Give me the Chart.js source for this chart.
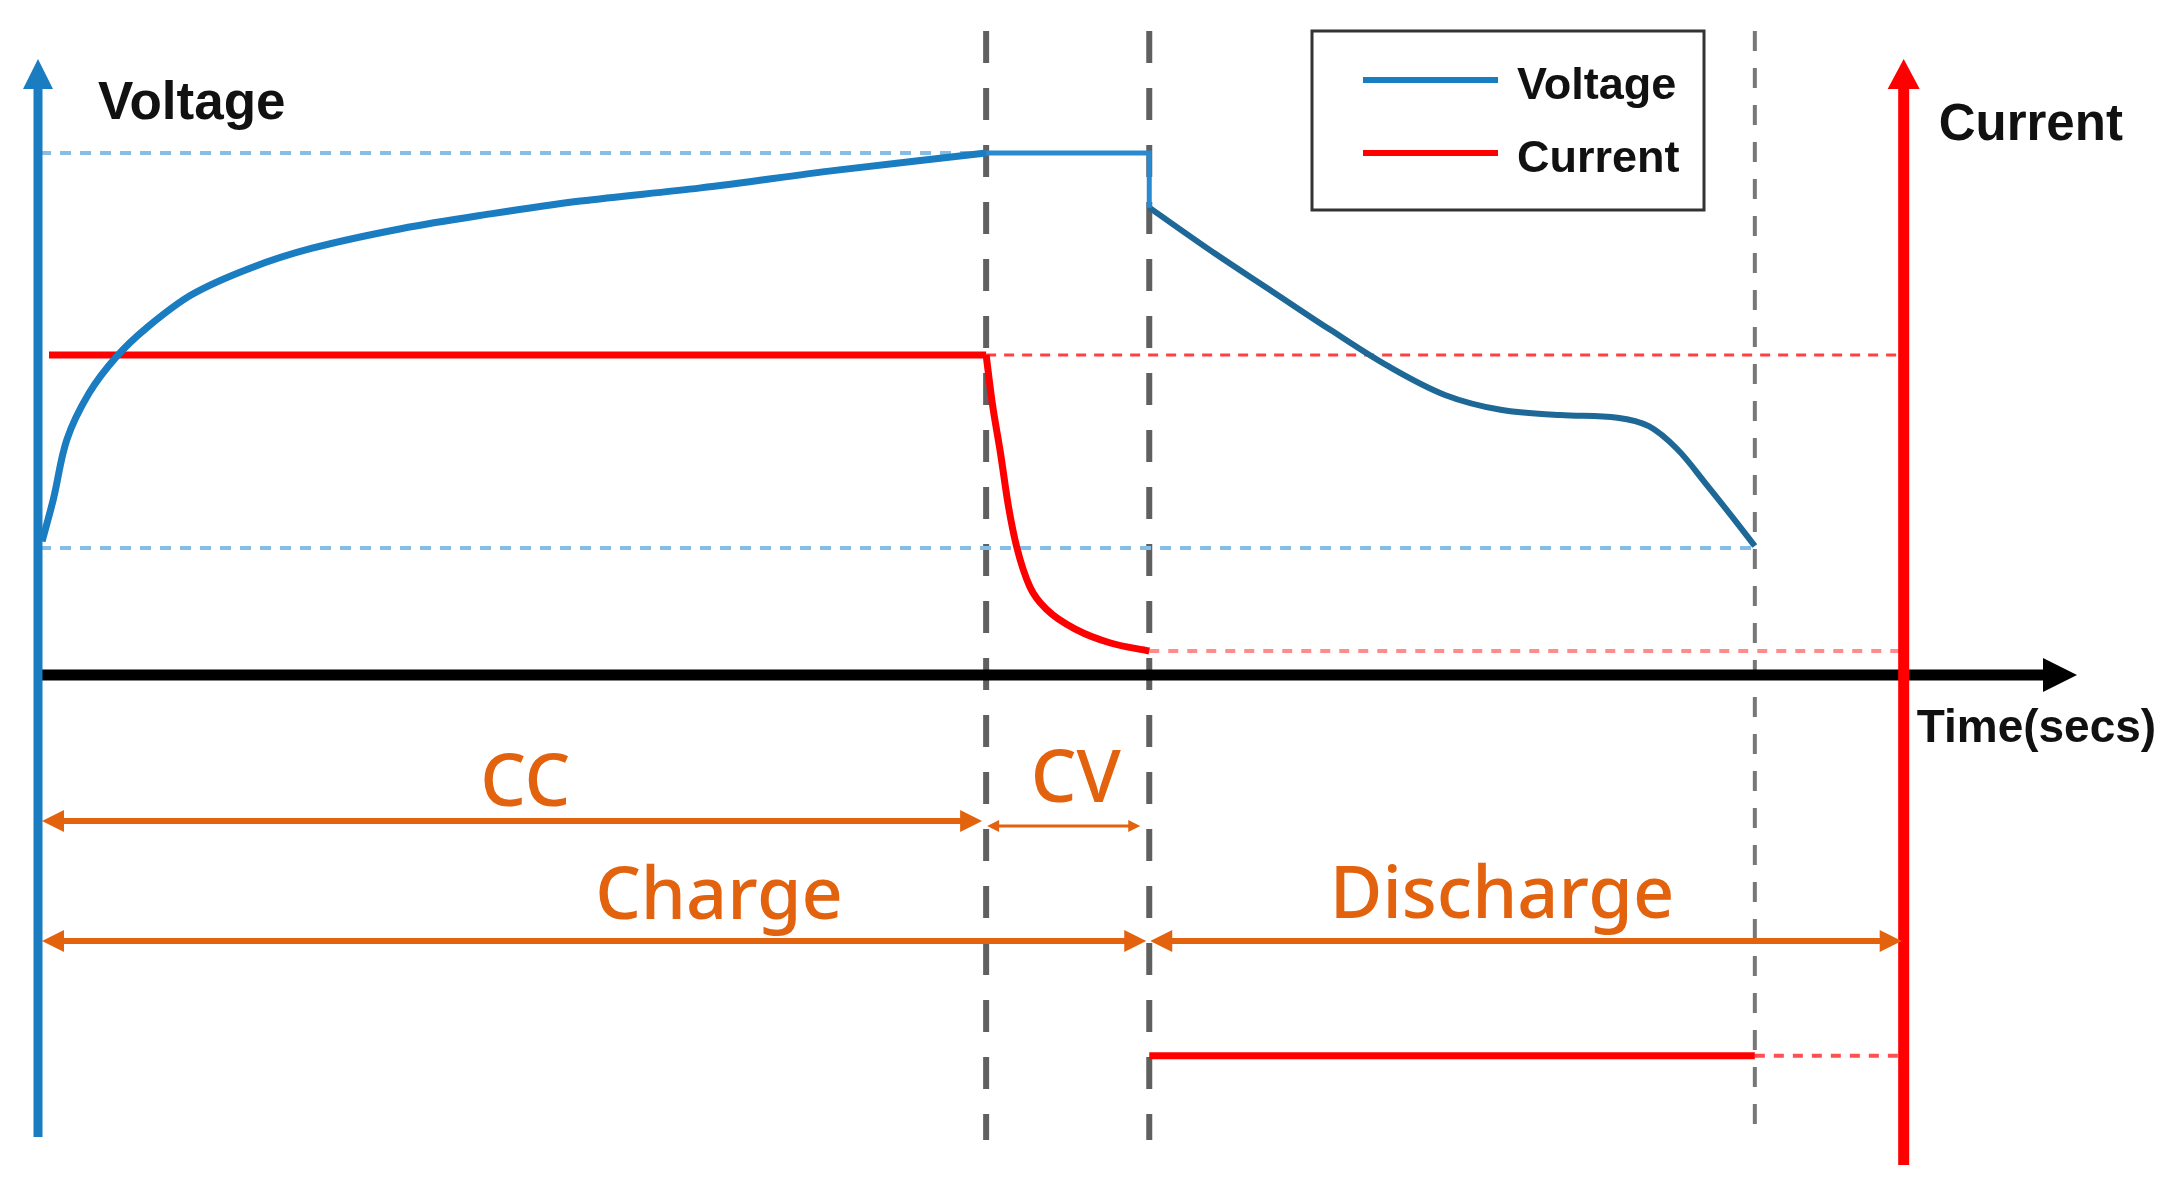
<!DOCTYPE html>
<html>
<head>
<meta charset="utf-8">
<script src="https://cdn.jsdelivr.net/npm/chart.js@4.4.0/dist/chart.umd.min.js"></script>
<style>
  html, body { margin: 0; padding: 0; background: #fff; overflow: hidden; }
  canvas { display: block; }
</style>
</head>
<body>
<canvas id="cccv-chart" width="2176" height="1186"></canvas>
<script>
// time is in arbitrary secs: 0 = start of charge, 100 = tip of the time arrow
const phaseTimes = [46.5, 54.5, 84.2];   // end of CC, end of CV, end of discharge
const currentAxisTime = 91.5;

// voltage (V) during CC charge
const chargeTime    = [0.2, 0.76, 1.42, 2.5, 3.83, 5.35, 7.55, 10.4, 13.4, 17.8, 22.2, 26.6, 32.5, 39.2, 46.5];
const chargeVoltage = [3.02, 3.15, 3.33, 3.47, 3.58, 3.67, 3.77, 3.85, 3.91, 3.97, 4.015, 4.054, 4.094, 4.148, 4.2];

// voltage held during CV, then the step down when discharge starts
const cvTime    = [46.5, 54.5, 54.5];
const cvVoltage = [4.2, 4.2, 4.034];

// voltage during discharge
const dischargeTime    = [54.5, 57.76, 60.57, 63.4, 66.2, 69.0, 71.8, 74.65, 77.46, 79.0, 80.4, 81.8, 83.1, 84.2];
const dischargeVoltage = [4.034, 3.893, 3.778, 3.662, 3.553, 3.465, 3.419, 3.404, 3.396, 3.37, 3.30, 3.195, 3.094, 3.006];

// current (A)
const ccTime    = [0.54, 46.5];
const ccCurrent = [1.0, 1.0];
const cvDecayTime    = [46.5, 46.8, 47.2, 47.6, 48.0, 48.65, 49.5, 50.95, 52.6, 54.5];
const cvDecayCurrent = [1.0, 0.85, 0.695, 0.525, 0.40, 0.275, 0.203, 0.141, 0.10, 0.075];
const dischargeCurrentTime = [54.5, 84.2];
const dischargeCurrent     = [-1.19, -1.19];

const vMax = 4.2, vMin = 3.0, iCutoff = 0.075;

const phaseLabels = ["CC", "CV", "Charge", "Discharge"];

// ---- frame: where the diagram sits on the 2176x1186 canvas ----
const W = 2176, H = 1186;
const T0_PX = 38, T100_PX = 2077;
const pxPerT = (T100_PX - T0_PX) / 100;
const V3_PX = 548, V42_PX = 153;
const pxPerV = (V3_PX - V42_PX) / (vMax - vMin);
const I0_PX = 675, I1_PX = 355;
const pxPerA = I0_PX - I1_PX;

const pts = (xs, ys) => xs.map((x, i) => ({ x: x, y: ys[i] }));
const flat = (xs, y) => xs.map(x => ({ x: x, y: y }));
const upright = (t, ys) => ys.map(y => ({ x: t, y: y }));

const BLUE = "#1a7cc1";
const BLUE_DARK = "#1d6896";
const BLUE_LIGHT = "#86bde6";
const RED = "#ff0000";
const ORANGE = "#e2620e";
const GRAY = "#606060";

function line(label, data, axis, color, width, extra) {
  return Object.assign({
    label: label, data: data, yAxisID: axis,
    borderColor: color, backgroundColor: color, borderWidth: width,
    pointRadius: 0, fill: false, tension: 0, order: 0
  }, extra || {});
}

const markerSpan = [(I0_PX - 31) / pxPerA, (I0_PX - 1140) / pxPerA];

const datasets = [
  line("Voltage", pts(chargeTime, chargeVoltage), "yV", BLUE, 7, { tension: 0.35 }),
  line("Voltage CV", pts(cvTime, cvVoltage), "yV", "#2a8ad0", 5),
  line("Voltage discharge", pts(dischargeTime, dischargeVoltage), "yV", BLUE_DARK, 6, { tension: 0.35 }),
  line("Current", pts(ccTime, ccCurrent), "yI", RED, 7),
  line("Current CV", pts(cvDecayTime, cvDecayCurrent), "yI", RED, 7, { cubicInterpolationMode: "monotone" }),
  line("Current discharge", pts(dischargeCurrentTime, dischargeCurrent), "yI", RED, 7),
  // guide lines
  line("vmax", flat([0.1, phaseTimes[0]], vMax), "yV", BLUE_LIGHT, 4, { borderDash: [11, 9], order: 5 }),
  line("vmin", flat([0.1, phaseTimes[2]], vMin), "yV", BLUE_LIGHT, 4, { borderDash: [11, 9], order: 5 }),
  line("ichg", flat([phaseTimes[0], currentAxisTime], ccCurrent[0]), "yI", "#ff4040", 3, { borderDash: [10, 8], order: 5 }),
  line("icut", flat([phaseTimes[1], currentAxisTime], iCutoff), "yI", "#ff8c8c", 4, { borderDash: [10, 9], order: 5 }),
  line("idis", flat([phaseTimes[2], currentAxisTime], dischargeCurrent[0]), "yI", "#ff5050", 4, { borderDash: [10, 9], order: 5 }),
  // phase boundaries
  line("m1", upright(phaseTimes[0], markerSpan), "yI", GRAY, 6, { borderDash: [32, 25], order: 10 }),
  line("m2", upright(phaseTimes[1], markerSpan), "yI", GRAY, 6, { borderDash: [32, 25], order: 10 }),
  line("m3", upright(phaseTimes[2], markerSpan), "yI", "#777777", 4, { borderDash: [20, 17], order: 10 })
];

function head(ctx, x, y, dx, dy, len, half) {
  // filled triangle with tip at (x,y) pointing along (dx,dy)
  const nx = -dy, ny = dx;
  ctx.beginPath();
  ctx.moveTo(x, y);
  ctx.lineTo(x - dx * len + nx * half, y - dy * len + ny * half);
  ctx.lineTo(x - dx * len - nx * half, y - dy * len - ny * half);
  ctx.closePath();
  ctx.fill();
}

function span(ctx, x1, x2, y, width, len, half) {
  ctx.lineWidth = width;
  ctx.beginPath();
  ctx.moveTo(x1 + len * 0.8, y);
  ctx.lineTo(x2 - len * 0.8, y);
  ctx.stroke();
  head(ctx, x1, y, -1, 0, len, half);
  head(ctx, x2, y, 1, 0, len, half);
}

const diagramPlugin = {
  id: "diagram",
  afterDatasetsDraw(chart) {
    const ctx = chart.ctx;
    const x = chart.scales.x, yI = chart.scales.yI;
    const ax0 = x.getPixelForValue(0);
    const axI = x.getPixelForValue(currentAxisTime);
    const axY = yI.getPixelForValue(0);
    const tipX = x.getPixelForValue(100);
    ctx.save();

    // time axis
    ctx.strokeStyle = "#000"; ctx.fillStyle = "#000";
    ctx.lineWidth = 11;
    ctx.beginPath(); ctx.moveTo(ax0, axY); ctx.lineTo(tipX - 30, axY); ctx.stroke();
    head(ctx, tipX, axY, 1, 0, 34, 17);

    // voltage axis
    ctx.strokeStyle = BLUE; ctx.fillStyle = BLUE;
    ctx.lineWidth = 9;
    ctx.beginPath(); ctx.moveTo(ax0, 1137); ctx.lineTo(ax0, 84); ctx.stroke();
    head(ctx, ax0, 59, 0, -1, 30, 15);

    // current axis
    ctx.strokeStyle = RED; ctx.fillStyle = RED;
    ctx.lineWidth = 11;
    ctx.beginPath(); ctx.moveTo(axI, 1165); ctx.lineTo(axI, 84); ctx.stroke();
    head(ctx, axI, 59, 0, -1, 30, 16);

    // axis titles
    ctx.fillStyle = "#111";
    ctx.textBaseline = "alphabetic";
    ctx.textAlign = "left";
    ctx.font = "bold 53px 'Liberation Sans', Arial, sans-serif";
    ctx.fillText("Voltage", ax0 + 60, 119);
    ctx.font = "bold 51px 'Liberation Sans', Arial, sans-serif";
    ctx.fillText("Current", axI + 35, 140);
    ctx.font = "bold 46px 'Liberation Sans', Arial, sans-serif";
    ctx.fillText("Time(secs)", axI + 13, 742);

    // phase spans
    const p0 = x.getPixelForValue(phaseTimes[0]);
    const p1 = x.getPixelForValue(phaseTimes[1]);
    ctx.strokeStyle = ORANGE; ctx.fillStyle = ORANGE;
    span(ctx, ax0 + 4, p0 - 4, axY + 146, 6, 22, 11);
    span(ctx, p0 + 1, p1 - 9, axY + 151, 3, 12, 6);
    span(ctx, ax0 + 4, p1 - 3, axY + 266, 6, 22, 11);
    span(ctx, p1 + 1, axI - 2, axY + 266, 6, 22, 11);

    ctx.font = "500 72px 'Noto Sans', sans-serif";
    ctx.textAlign = "center";
    ctx.fillText(phaseLabels[0], x.getPixelForValue(23.9), axY + 131);
    ctx.fillText(phaseLabels[1], x.getPixelForValue(50.9), axY + 127);
    ctx.fillText(phaseLabels[2], x.getPixelForValue(33.4), axY + 244);
    ctx.fillText(phaseLabels[3], x.getPixelForValue(71.8), axY + 243);

    // legend
    const box = { l: 1312, t: 31, r: 1704, b: 210 };
    ctx.fillStyle = "#fff";
    ctx.fillRect(box.l, box.t, box.r - box.l, box.b - box.t);
    ctx.strokeStyle = "#333"; ctx.lineWidth = 3;
    ctx.strokeRect(box.l, box.t, box.r - box.l, box.b - box.t);
    const items = [[datasets[0].label, BLUE, 80], [datasets[3].label, RED, 153]];
    ctx.font = "bold 45px 'Liberation Sans', Arial, sans-serif";
    ctx.textAlign = "left";
    items.forEach(([label, color, yy]) => {
      ctx.strokeStyle = color; ctx.lineWidth = 6;
      ctx.beginPath(); ctx.moveTo(1363, yy); ctx.lineTo(1498, yy); ctx.stroke();
      ctx.fillStyle = "#111";
      ctx.fillText(label, 1517, yy + 19);
    });

    ctx.restore();
  }
};

new Chart(document.getElementById("cccv-chart").getContext("2d"), {
  type: "line",
  data: { datasets: datasets },
  options: {
    responsive: false,
    animation: false,
    devicePixelRatio: 1,
    layout: { padding: 0 },
    plugins: { legend: { display: false }, tooltip: { enabled: false } },
    scales: {
      x: { type: "linear", display: false, min: -T0_PX / pxPerT, max: (W - T0_PX) / pxPerT },
      yV: { type: "linear", display: false, min: vMin - (H - V3_PX) / pxPerV, max: vMax + V42_PX / pxPerV },
      yI: { type: "linear", display: false, min: -(H - I0_PX) / pxPerA, max: I0_PX / pxPerA }
    }
  },
  plugins: [diagramPlugin]
});
</script>
</body>
</html>
